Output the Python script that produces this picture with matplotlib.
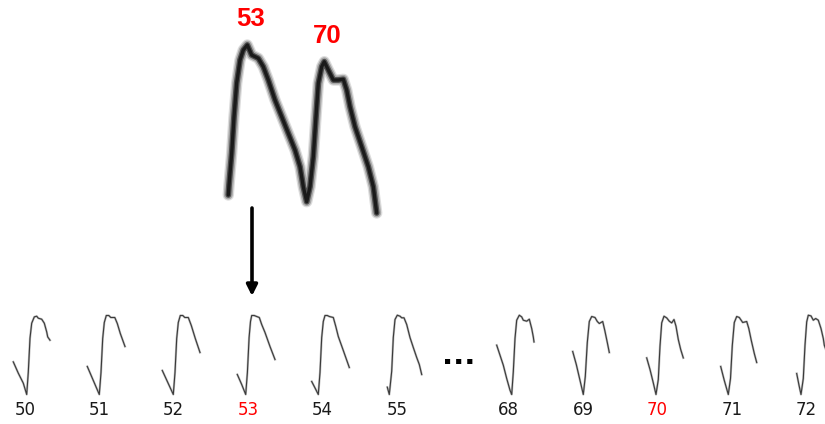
import numpy as np
import matplotlib.pyplot as plt

# beat numbers shown in the strip, and the two beats picked out
beat_labels = [50, 51, 52, 53, 54, 55, 68, 69, 70, 71, 72]
picked = [53, 70]

# time of the pressure minimum inside each beat window
trough_time = [1.7, -0.1, -0.5, -2.5, -4.3, -7.7, 3.1, 0.3, -1.4, -3.5, -5.2]

# per-beat samples: time from minimum, pressure above minimum
t50 = [-13.4, -8.4, -3.4, 0, 1.6, 3.3, 5, 7.6, 10, 11.6, 15, 17.6, 20, 21, 23.3]
p50 = [32.6, 21.3, 11.3, 0, 22.3, 56.3, 71.3, 77.6, 78.3, 76.3, 75.3, 71.3, 62.6, 57.6, 54.3]
t51 = [-12, -6, 0, 1.7, 3.4, 5, 7, 9.5, 11.5, 15.5, 18, 21, 25.7]
p51 = [28, 14, 0, 22, 56, 72, 79, 79, 77, 77, 71, 61, 48]
t52 = [-11, -5.5, 0, 1.7, 3.4, 5, 7, 9.5, 11.5, 15, 18, 22, 26.7]
p52 = [24, 12, 0, 22, 56, 72, 79, 79, 77, 77, 69, 56, 42]
t53 = [-8.4, -4, 0, 1.7, 3.4, 4.8, 6, 8.5, 11, 13.6, 16, 19.3, 24.3, 29.3]
p53 = [20, 10, 0, 22, 57, 73, 79, 79, 78, 77, 70, 62, 48, 35]
t54 = [-6.6, -3, 0, 1.7, 3.4, 5, 6.7, 9, 11, 15, 17.5, 20, 25, 31]
p54 = [13, 6, 0, 22, 57, 73, 79, 79, 78, 77, 68, 58, 44, 27]
t55 = [-2, 0, 2.4, 4, 5.7, 8, 10.7, 12.4, 14.7, 17.4, 20.7, 24, 27.4, 30, 32.4]
p55 = [7.3, 0, 23.3, 57, 75, 79.3, 78.3, 76.7, 76.7, 70, 57, 47, 37, 30, 20]
t68 = [-15, -11.7, -8.4, -5, -1.7, 0, 1.6, 3.3, 5, 7.6, 10, 11.6, 15, 17.6, 20, 21.6, 22.3]
p68 = [49.3, 39.3, 29.3, 16, 4.3, 0, 22.6, 56, 74.3, 79.3, 77.6, 74.3, 73.3, 75.3, 66, 57.6, 52.6]
t69 = [-10.6, -7, -3.5, 0, 2, 4, 6, 8.4, 11.7, 14, 16, 19.4, 21.5, 24, 26]
p69 = [43, 30, 15, 0, 18, 52, 73, 78, 77, 73, 71, 73, 64, 52, 42]
t70 = [-9.3, -6, -2.7, 0, 2.3, 4, 5.7, 8, 10.7, 13.3, 15.7, 18, 20, 22.3, 24.7, 27.3]
p70 = [36.6, 25, 11.6, 0, 15, 48.3, 71.6, 78.3, 76.6, 73.3, 71.6, 75, 68.3, 55, 45, 36.6]
t71 = [-7.6, -4, 0, 2.2, 4, 6, 8.4, 11, 14.4, 18.4, 20.5, 23, 26, 28.4]
p71 = [28, 14, 0, 16, 49, 72, 78, 77, 72, 73, 66, 54, 41, 32]
t72 = [-4.3, -2, 0, 2.3, 4, 5.7, 7.3, 10, 12.3, 14.7, 17.3, 20, 22.3, 23.3, 27, 31]
p72 = [21, 9.3, 0, 16, 49.3, 72.6, 79.3, 78.6, 74.3, 76, 74.3, 66, 56, 49.3, 39, 32]

beat_t = [t50, t51, t52, t53, t54, t55, t68, t69, t70, t71, t72]
beat_p = [p50, p51, p52, p53, p54, p55, p68, p69, p70, p71, p72]

# continuous trace from beat 53 through beat 70
trace_t = [0, 0.7, 3.4, 5.7, 8.4, 11.7, 15, 19, 23.4, 30, 35, 40, 46.7, 53.4, 60, 66.7,
           71.7, 75, 78.4, 81.7, 85, 87.7, 90, 93.4, 96, 100, 105, 110, 115, 118.4,
           121.7, 126.7, 133.4, 140, 145, 148.4]
trace_p = [20, 30, 62, 98, 132, 155, 165, 170, 160, 156.7, 148.3, 135, 115, 98.3, 81.7, 65,
           48.3, 28.3, 13.3, 28.3, 58.3, 98.3, 131.7, 148.3, 153.3, 145, 135, 135, 135.7, 125,
           108.3, 88.3, 68.3, 48.3, 28.3, 2]

RED = '#ff0000'

fig = plt.figure(figsize=(8.25, 4.24), dpi=100)
ax = fig.add_axes([0, 0, 1, 1])
ax.set_xlim(0, 825)
ax.set_ylim(424, 0)
ax.axis('off')

# strip of single beats
pitch = 74.4
x_first = 25
base_y = 394.5
slots = list(range(6)) + [6.5 + k for k in range(5)]
for lab, slot, t0, t, p in zip(beat_labels, slots, trough_time, beat_t, beat_p):
    xc = x_first + pitch * slot
    x = xc + t0 + np.asarray(t)
    y = base_y - np.asarray(p)
    ax.plot(x, y, color='#bcbcbc', lw=1.6, solid_joinstyle='round')
    ax.plot(x, y, color='#3a3a3a', lw=0.8, solid_joinstyle='round')
    ax.text(xc, 410, str(lab), ha='center', va='center', fontsize=12,
            color=RED if lab in picked else '#1a1a1a')

ax.text(459, 356, '...', ha='center', va='center', fontsize=21,
        fontweight='bold', color='black')

# enlarged trace, drawn in layers for a soft edge
tx0, ty0 = 228.3, 215
tx = tx0 + np.asarray(trace_t)
ty = ty0 - np.asarray(trace_p)
for lw, c in [(8.2, '#dcdcdc'), (6.4, '#a8a8a8'), (4.2, '#505050'), (2.4, '#1a1a1a')]:
    ax.plot(tx, ty, color=c, lw=lw, solid_capstyle='round', solid_joinstyle='round')

# peak labels above the two systolic maxima
tp = np.asarray(trace_p)
i1 = int(np.argmax(tp[:18]))
i2 = 18 + int(np.argmax(tp[18:]))
for idx, lab in zip([i1, i2], picked):
    ax.text(tx[idx] + 3, ty[idx] - 25.5, str(lab), ha='center', va='center',
            fontsize=18.5, fontweight='bold', color=RED, family='Liberation Sans')

ax.annotate('', xy=(252, 296), xytext=(252, 208),
            arrowprops=dict(arrowstyle='-|>', lw=2.6, color='black',
                            mutation_scale=16, shrinkA=0, shrinkB=0))

fig.savefig('out.png', dpi=100)
